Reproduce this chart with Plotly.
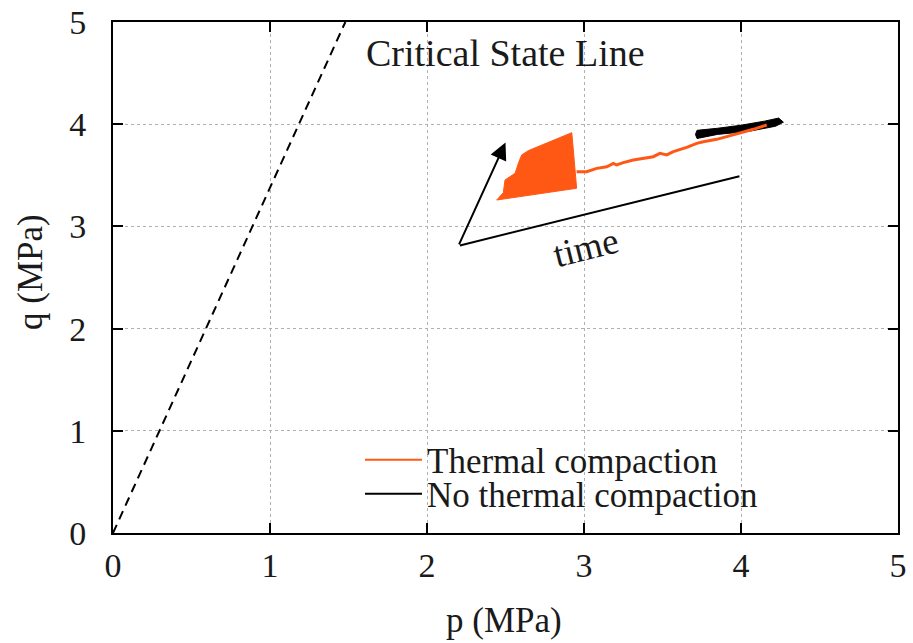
import plotly.graph_objects as go

# ---- data ----
csl_p = [0.0, 1.48]
csl_q = [0.0, 5.0]

# orange (thermal compaction) dense cloud outline
thermal_blob_p = [2.444, 2.486, 2.497, 2.561, 2.582, 2.603, 2.645, 2.922, 2.932, 2.953, 2.444]
thermal_blob_q = [3.258, 3.330, 3.454, 3.520, 3.617, 3.699, 3.741, 3.917, 3.748, 3.373, 3.258]

# orange trail
thermal_p = [2.953, 3.017, 3.081, 3.145, 3.187, 3.208, 3.250, 3.314, 3.441, 3.484, 3.527,
             3.569, 3.654, 3.718, 3.760, 3.845, 3.909, 3.994, 4.078, 4.164]
thermal_q = [3.535, 3.535, 3.568, 3.584, 3.617, 3.601, 3.624, 3.650, 3.682, 3.715, 3.699,
             3.731, 3.774, 3.813, 3.829, 3.852, 3.878, 3.911, 3.950, 3.992]

# black (no thermal compaction) band outline
nothermal_p = [3.71, 3.72, 3.85, 4.00, 4.15, 4.24, 4.27, 4.22, 4.05, 3.85, 3.72, 3.71]
nothermal_q = [3.90, 3.94, 3.96, 3.99, 4.03, 4.06, 4.02, 3.98, 3.93, 3.90, 3.86, 3.90]

# arrows (origin, arrow tip, time-line end)
arrow_origin = (2.20, 2.81)
arrow_tip = (2.50, 3.82)
time_end = (3.99, 3.49)

tick_vals = [0, 1, 2, 3, 4, 5]

ORANGE = "rgb(255,88,20)"
FONT = "Liberation Serif"
TXT = "#1a1a1a"

# plot-area geometry in pixels (for paper-coordinate conversions)
L, R, T, B = 113, 15, 22, 110
W, H = 913, 643
PW, PH = W - L - R, H - T - B


def px(xp):
    return (xp - L) / PW


def py(yp):
    return (H - B - yp) / PH


fig = go.Figure()

fig.add_trace(go.Scatter(x=csl_p, y=csl_q, mode="lines",
                         line=dict(color="black", width=2, dash="9px,6px"),
                         showlegend=False, hoverinfo="skip"))

fig.add_trace(go.Scatter(x=nothermal_p, y=nothermal_q, mode="lines", fill="toself",
                         fillcolor="black", line=dict(color="black", width=1),
                         showlegend=False))

fig.add_trace(go.Scatter(x=thermal_blob_p, y=thermal_blob_q, mode="lines", fill="toself",
                         fillcolor=ORANGE, line=dict(color=ORANGE, width=1),
                         showlegend=False))
fig.add_trace(go.Scatter(x=thermal_p, y=thermal_q, mode="lines",
                         line=dict(color=ORANGE, width=3),
                         showlegend=False))

# legend entries
fig.add_trace(go.Scatter(x=[None], y=[None], mode="lines", name="Thermal compaction",
                         line=dict(color=ORANGE, width=2), legend="legend"))
fig.add_trace(go.Scatter(x=[None], y=[None], mode="lines", name="No thermal compaction",
                         line=dict(color="black", width=2), legend="legend2"))

# arrows
fig.add_annotation(x=arrow_tip[0], y=arrow_tip[1], ax=arrow_origin[0], ay=arrow_origin[1],
                   xref="x", yref="y", axref="x", ayref="y", text="", showarrow=True,
                   arrowhead=2, arrowsize=1.7, arrowwidth=2, arrowcolor="black")
fig.add_annotation(x=time_end[0], y=time_end[1], ax=arrow_origin[0], ay=arrow_origin[1],
                   xref="x", yref="y", axref="x", ayref="y", text="", showarrow=True,
                   arrowhead=0, arrowwidth=2, arrowcolor="black")

fig.add_annotation(x=3.01, y=2.79, xref="x", yref="y", text="time", showarrow=False,
                   textangle=-14, font=dict(family=FONT, size=37, color=TXT))
fig.add_annotation(x=2.50, y=4.70, xref="x", yref="y", text="Critical State Line",
                   showarrow=False, font=dict(family=FONT, size=38, color=TXT))

# axis titles
fig.add_annotation(x=px(30), y=py(272), xref="paper", yref="paper", text="q (MPa)",
                   showarrow=False, textangle=-90, xanchor="center", yanchor="middle",
                   font=dict(family=FONT, size=35, color=TXT))
fig.add_annotation(x=px(504), y=py(620), xref="paper", yref="paper", text="p (MPa)",
                   showarrow=False, xanchor="center", yanchor="middle",
                   font=dict(family=FONT, size=35, color=TXT))

axis_common = dict(range=[0, 5], tickvals=tick_vals, showline=True, linewidth=2,
                   linecolor="black", mirror="ticks", ticks="inside", ticklen=10,
                   tickwidth=2, tickcolor="black", showgrid=True, gridcolor="#b0b0b0",
                   griddash="dot", gridwidth=1, zeroline=False, automargin=False,
                   tickfont=dict(family=FONT, size=34, color=TXT))

fig.update_xaxes(**axis_common, ticklabelstandoff=1)
fig.update_yaxes(**axis_common, ticklabelstandoff=18)

leg_common = dict(font=dict(family=FONT, size=35, color=TXT), bgcolor="rgba(0,0,0,0)",
                  borderwidth=0, xanchor="left", yanchor="middle", itemwidth=57)
fig.update_layout(
    width=W, height=H,
    margin=dict(l=L, r=R, t=T, b=B, autoexpand=False),
    paper_bgcolor="white", plot_bgcolor="white",
    legend=dict(**leg_common, x=px(360), y=py(460)),
    legend2=dict(**leg_common, x=px(360), y=py(494)),
)

fig.write_html("out.html")
